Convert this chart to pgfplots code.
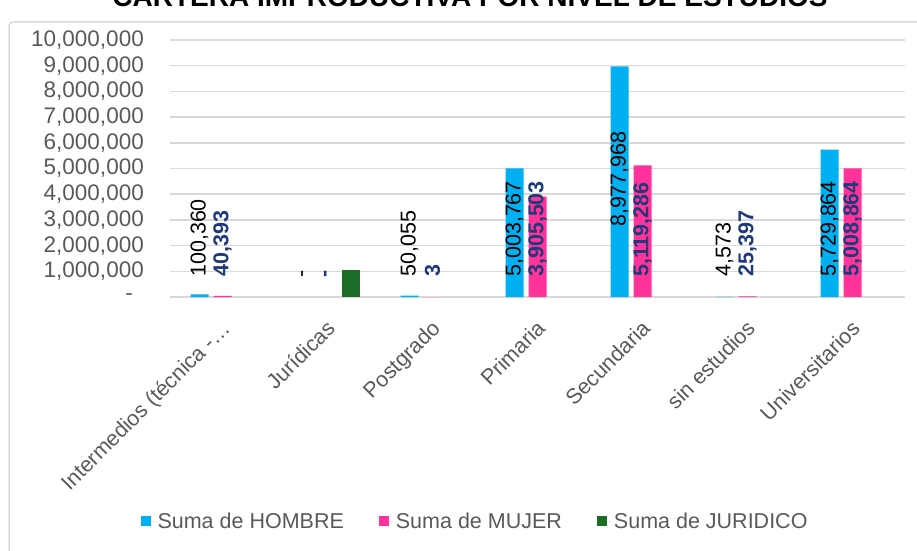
\documentclass[border=0pt]{standalone}
\usepackage{pgfplots}
\pgfplotsset{compat=1.18}
\usepackage{pgfplotstable}
\usepackage{fontspec}
\setmainfont{Liberation Sans}
\definecolor{hcol}{HTML}{00B0F0}
\definecolor{mcol}{HTML}{FF3399}
\definecolor{jcol}{HTML}{1B6D25}
\definecolor{lblue}{HTML}{1F3A7A}
\definecolor{tgray}{HTML}{595959}
\definecolor{ggray}{HTML}{D9D9D9}

% nan = no bar drawn (value 0 in the source)
\pgfplotstableread{
x h m j
0 100360 40393 nan
1 nan nan 1066000
2 50055 3 nan
3 5003767 3905503 nan
4 8977968 5119286 nan
5 4573 25397 nan
6 5729864 5008864 nan
}\bars

\pgfplotstableread{
x y lab
-0.219 780000 100,360
0.781 750000 -
1.781 780000 50,055
2.781 780000 5,003,767
3.781 2720000 8,977,968
4.781 780000 4,573
5.781 780000 5,729,864
}\hlabels

\pgfplotstableread{
x y lab
0 780000 40,393
1 750000 -
2 780000 3
3 780000 3,905,503
4 780000 5,119,286
5 780000 25,397
6 780000 5,008,864
}\mlabels

\pgfplotsset{sqlegend/.style={legend image code/.code={\fill[##1] (0pt,-5pt) rectangle (10pt,5pt); \path (0pt,0pt) -- (15pt,0pt);}}}

\begin{document}
\begin{tikzpicture}
\useasboundingbox (0pt,0pt) rectangle (917pt,550pt);
\draw[ggray, line width=1.5pt, rounded corners=4pt] (9pt,528pt) rectangle (940pt,-20pt);
\node[anchor=base, font=\bfseries\fontsize{28}{28}\selectfont] at (470pt,543pt) {CARTERA IMPRODUCTIVA POR NIVEL DE ESTUDIOS};

\begin{axis}[
  at={(170pt,253pt)}, anchor=south west, scale only axis,
  width=735pt, height=257pt,
  xmin=-0.5, xmax=6.5, ymin=0, ymax=10000000,
  ybar=5pt, bar width=18pt,
  unbounded coords=discard,
  axis line style={draw=none}, major tick length=0pt,
  ymajorgrids, grid style={ggray, line width=1.5pt},
  scaled y ticks=false,
  ytick={0,1000000,2000000,3000000,4000000,5000000,6000000,7000000,8000000,9000000,10000000},
  yticklabels={{-\kern 11pt},{1,000,000},{2,000,000},{3,000,000},{4,000,000},{5,000,000},{6,000,000},{7,000,000},{8,000,000},{9,000,000},{10,000,000}},
  xtick={0,1,2,3,4,5,6},
  xticklabels={{Intermedios (técnica -…},{Jurídicas},{Postgrado},{Primaria},{Secundaria},{sin estudios},{Universitarios}},
  tick label style={text=tgray, font=\fontsize{21.5}{21.5}\selectfont},
  yticklabel style={anchor=east, inner sep=0pt, xshift=-26pt, font=\fontsize{22.5}{22.5}\selectfont},
  xticklabel style={xshift=5pt, yshift=-29pt, rotate=45, anchor=east, inner sep=0pt, text height=15pt, text depth=4pt},
  legend columns=3,
  legend style={at={(0.415,-0.872)}, anchor=center, draw=none, fill=none,
    font=\fontsize{21.5}{21.5}\selectfont, text=tgray,
    /tikz/every even column/.append style={column sep=33pt}},
]
\addplot[fill=hcol, draw=none, sqlegend] table[x=x, y=h] {\bars};
\addlegendentry{Suma de HOMBRE}
\addplot[fill=mcol, draw=none, sqlegend] table[x=x, y=m] {\bars};
\addlegendentry{Suma de MUJER}
\addplot[fill=jcol, draw=none, sqlegend] table[x=x, y=j] {\bars};
\addlegendentry{Suma de JURIDICO}
\end{axis}

\begin{axis}[
  at={(170pt,253pt)}, anchor=south west, scale only axis,
  width=735pt, height=257pt,
  xmin=-0.5, xmax=6.5, ymin=0, ymax=10000000,
  hide axis, clip=false,
]
\addplot[only marks, mark=none, nodes near coords, point meta=explicit symbolic,
  nodes near coords style={rotate=90, anchor=west, inner sep=0pt, text=black, font=\fontsize{21.5}{21.5}\selectfont}]
  table[x=x, y=y, meta=lab] {\hlabels};
\addplot[only marks, mark=none, nodes near coords, point meta=explicit symbolic,
  nodes near coords style={rotate=90, anchor=west, inner sep=0pt, text=lblue, font=\bfseries\fontsize{21.5}{21.5}\selectfont}]
  table[x=x, y=y, meta=lab] {\mlabels};
\end{axis}
\end{tikzpicture}
\end{document}
